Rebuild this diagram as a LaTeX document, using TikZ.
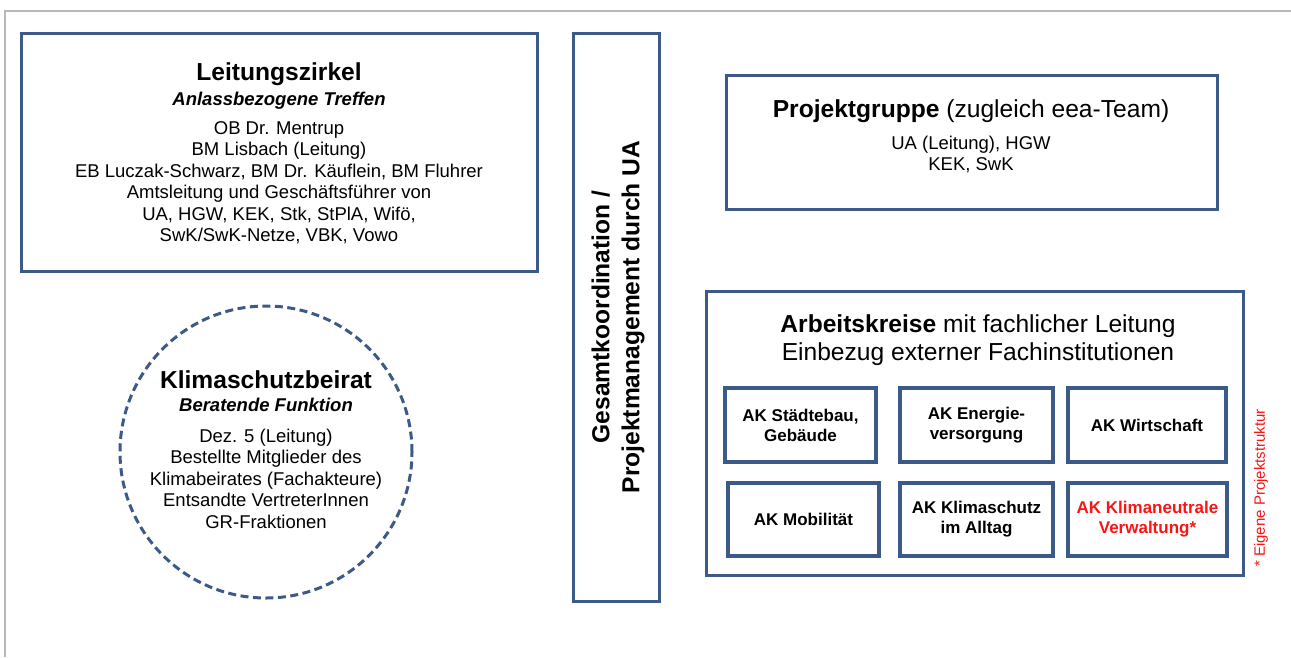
\documentclass[tikz,border=0pt]{standalone}
\usepackage{fontspec}
\setmainfont{Liberation Sans}
\definecolor{boxblue}{RGB}{60,90,135}
\definecolor{akred}{RGB}{250,20,20}

\begin{document}
\begin{tikzpicture}[x=1pt,y=-1pt,
  rahmen/.style={draw=boxblue,line width=3pt,inner sep=0pt},
  akbox/.style={draw=boxblue,line width=3.5pt,minimum height=74pt,inner sep=0pt,align=center,font=\bfseries\fontsize{17}{20}\selectfont},
  titel/.style={font=\bfseries\fontsize{24.6}{28}\selectfont,align=center,inner sep=0pt},
  untertitel/.style={font=\bfseries\itshape\fontsize{18.5}{21.5}\selectfont,inner sep=0pt},
  liste/.style={font=\fontsize{18.5}{21.5}\selectfont,align=center,inner sep=0pt}]

\useasboundingbox (0,0) rectangle (1291,657);
\draw[gray!55,line width=1.5pt] (5,657) -- (5,11) -- (1291,11);

\node[rahmen,minimum width=516pt,minimum height=238pt] (lz) at (279,152) {};
\node[titel] (lztitel) at (279,74.5) {Leitungszirkel};
\node[untertitel] (lzsub) at (279,100.5) {Anlassbezogene Treffen};
\node[liste] (lzliste) at (279,182.5) {OB Dr. Mentrup\\BM Lisbach (Leitung)\\EB Luczak-Schwarz, BM Dr. Käuflein, BM Fluhrer\\Amtsleitung und Geschäftsführer von\\UA, HGW, KEK, Stk, StPlA, Wifö,\\SwK/SwK-Netze, VBK, Vowo};

\node[rahmen,circle,dash pattern=on 8pt off 4.5pt,minimum size=292pt] (kb) at (266,452) {};
\node[titel] (kbtitel) at (266,379.5) {Klimaschutzbeirat};
\node[untertitel] (kbsub) at (266,404.5) {Beratende Funktion};
\node[liste] (kbliste) at (266,478.5) {Dez. 5 (Leitung)\\Bestellte Mitglieder des\\Klimabeirates (Fachakteure)\\Entsandte VertreterInnen\\GR-Fraktionen};

\node[rahmen,minimum width=86pt,minimum height=568pt] (gk) at (616,317) {};
\node[titel,rotate=90,font=\bfseries\fontsize{24.6}{30}\selectfont] (gktext) at (618,317) {Gesamtkoordination /\\Projektmanagement durch UA};

\node[rahmen,minimum width=491pt,minimum height=134pt] (pg) at (971.5,142) {};
\node[titel,font=\fontsize{24.6}{28}\selectfont] (pgtitel) at (971,111.5) {\textbf{Projektgruppe} (zugleich eea-Team)};
\node[liste,font=\fontsize{18.5}{21}\selectfont] (pgliste) at (971,154) {UA (Leitung), HGW\\KEK, SwK};

\node[rahmen,minimum width=537pt,minimum height=284pt] (ak) at (974.5,433) {};
\node[titel,font=\fontsize{24.6}{28}\selectfont] (aktitel) at (978,340) {\textbf{Arbeitskreise} mit fachlicher Leitung\\Einbezug externer Fachinstitutionen};

\node[akbox,minimum width=151pt] (ak1) at (800.5,425) {AK Städtebau,\\Gebäude};
\node[akbox,minimum width=153pt] (ak2) at (976.5,425) {AK Energie-\\versorgung};
\node[akbox,minimum width=158pt] (ak3) at (1147,425) {AK Wirtschaft};
\node[akbox,minimum width=151pt,minimum height=73pt] (ak4) at (803.5,519.5) {AK Mobilität};
\node[akbox,minimum width=153pt,minimum height=73pt] (ak5) at (976.5,519.5) {AK Klimaschutz\\im Alltag};
\node[akbox,minimum width=159pt,minimum height=73pt,text=akred] (ak6) at (1147.5,519.5) {AK Klimaneutrale\\Verwaltung*};

\node[rotate=90,text=akred,font=\fontsize{15}{18}\selectfont] (hinweis) at (1261,488) {* Eigene Projektstruktur};
\end{tikzpicture}
\end{document}
